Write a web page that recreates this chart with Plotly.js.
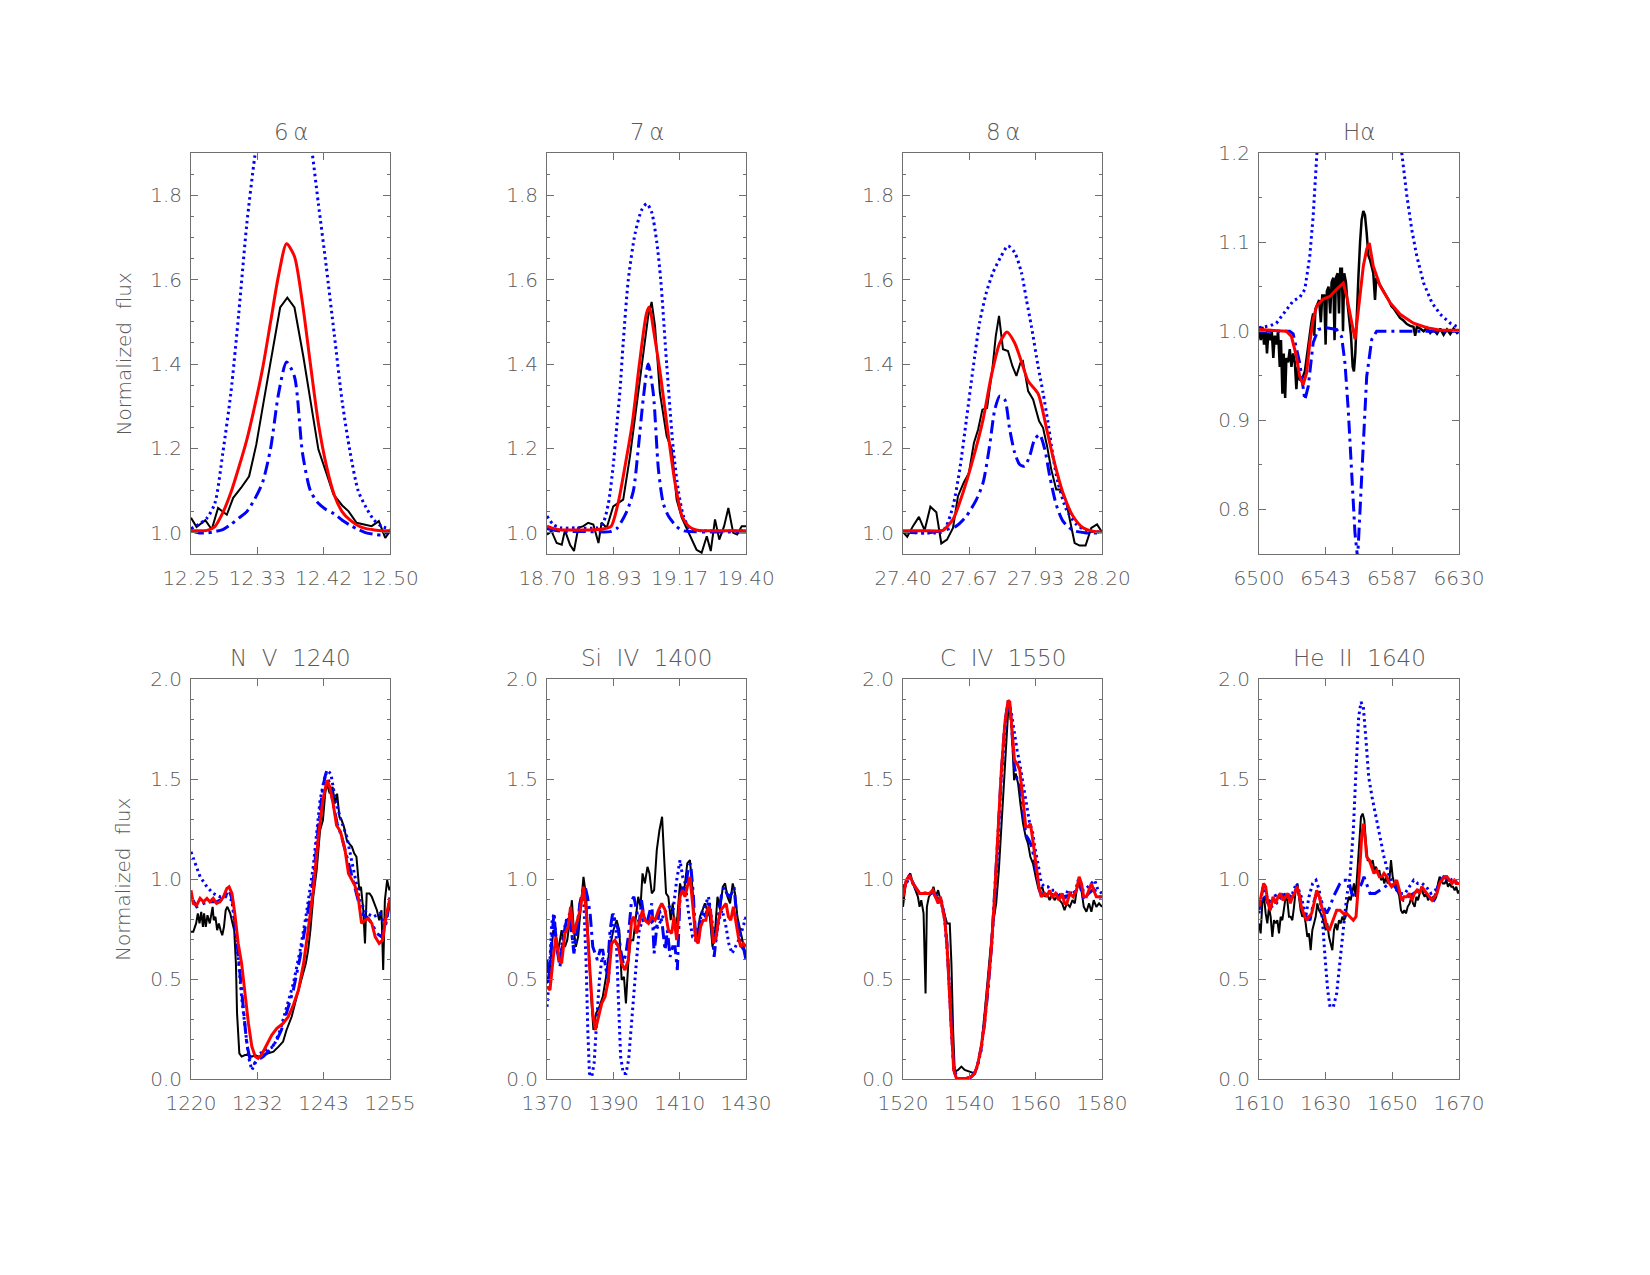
<!DOCTYPE html>
<html><head><meta charset="utf-8">
<script src="https://cdn.plot.ly/plotly-3.0.1.min.js"></script>
<style>html,body{margin:0;padding:0;background:#fff}#chart{width:1650px;height:1275px}</style>
</head><body><div id="chart"></div>
<script>
// ---------------- 6 alpha ----------------
const obs6x=[12.250,12.257,12.268,12.276,12.284,12.295,12.303,12.313,12.323,12.332,12.341,12.351,12.362,12.371,12.380,12.391,12.399,12.410,12.420,12.429,12.440,12.448,12.458,12.467,12.477,12.486,12.494,12.500];
const obs6y=[1.036,1.014,1.030,1.008,1.059,1.043,1.083,1.107,1.134,1.209,1.308,1.415,1.534,1.557,1.534,1.419,1.324,1.198,1.142,1.091,1.065,1.051,1.024,1.020,1.016,1.028,0.988,1.004];
const grid6=[12.25,12.26,12.27,12.28,12.29,12.30,12.31,12.32,12.33,12.34,12.35,12.36,12.37,12.38,12.39,12.40,12.41,12.42,12.43,12.44,12.45,12.46,12.47,12.48,12.49,12.50];
const fit6=[1.005,1.005,1.006,1.015,1.048,1.095,1.155,1.22,1.30,1.39,1.50,1.61,1.685,1.655,1.545,1.40,1.26,1.16,1.09,1.05,1.03,1.017,1.01,1.007,1.005,1.005];
const dot6=[1.01,1.02,1.035,1.07,1.19,1.33,1.52,1.73,1.89,2.02,2.12,2.18,2.18,2.12,2.02,1.93,1.78,1.63,1.47,1.31,1.19,1.10,1.06,1.03,1.015,1.01];
const dd6=[1.005,1.0,1.0,1.003,1.008,1.02,1.035,1.05,1.08,1.12,1.20,1.33,1.405,1.37,1.19,1.10,1.07,1.055,1.045,1.03,1.018,1.008,1.0,0.997,0.995,1.005];
// ---------------- 7 alpha ----------------
const obs7x=[18.700,18.716,18.734,18.752,18.763,18.781,18.795,18.810,18.828,18.845,18.863,18.881,18.892,18.910,18.933,18.951,18.968,18.992,19.015,19.039,19.056,19.068,19.080,19.097,19.121,19.139,19.156,19.174,19.197,19.226,19.244,19.262,19.276,19.291,19.306,19.323,19.338,19.355,19.369,19.385,19.400];
const obs7y=[0.996,1.004,0.976,0.972,1.006,0.972,0.957,1.012,1.016,1.024,1.020,0.976,1.024,1.012,1.063,1.071,1.079,1.182,1.300,1.435,1.514,1.547,1.490,1.332,1.229,1.198,1.079,1.036,1.004,0.960,0.953,0.992,0.957,1.032,0.984,1.016,1.059,1.000,0.996,1.016,1.016];
const fit7x=[18.70,18.725,18.75,18.80,18.85,18.90,18.925,18.95,18.975,19.00,19.025,19.05,19.06,19.075,19.10,19.125,19.15,19.175,19.20,19.225,19.25,19.30,19.35,19.40];
const fit7y=[1.016,1.010,1.007,1.007,1.007,1.010,1.015,1.07,1.16,1.26,1.40,1.52,1.535,1.48,1.37,1.24,1.12,1.04,1.015,1.007,1.005,1.005,1.005,1.005];
const dot7x=[18.700,18.722,18.746,18.804,18.875,18.898,18.916,18.933,18.945,18.957,18.968,18.986,19.010,19.033,19.051,19.068,19.086,19.100,19.121,19.144,19.162,19.180,19.203,19.250,19.400];
const dot7y=[1.04,1.02,1.012,1.012,1.012,1.025,1.07,1.16,1.25,1.34,1.45,1.60,1.71,1.765,1.78,1.76,1.69,1.60,1.40,1.20,1.10,1.04,1.01,1.005,1.005];
const dd7x=[18.700,18.750,18.850,18.922,18.945,18.980,19.004,19.021,19.039,19.056,19.074,19.092,19.109,19.127,19.156,19.180,19.300,19.400];
const dd7y=[1.010,1.004,1.003,1.003,1.010,1.050,1.100,1.200,1.320,1.400,1.330,1.150,1.070,1.040,1.015,1.005,1.002,1.002];
// ---------------- 8 alpha ----------------
const obs8x=[27.400,27.417,27.440,27.464,27.487,27.510,27.534,27.554,27.577,27.601,27.621,27.644,27.665,27.685,27.702,27.719,27.738,27.759,27.773,27.786,27.802,27.822,27.840,27.856,27.872,27.882,27.903,27.923,27.947,27.963,27.979,27.996,28.016,28.032,28.054,28.070,28.090,28.110,28.134,28.157,28.180,28.200];
const obs8y=[1.002,0.991,1.016,1.038,1.006,1.062,1.049,0.975,0.984,1.012,1.087,1.119,1.142,1.213,1.245,1.292,1.296,1.387,1.466,1.514,1.435,1.431,1.395,1.372,1.403,1.407,1.336,1.316,1.265,1.249,1.206,1.150,1.103,1.103,1.079,1.032,0.976,0.970,0.970,1.012,1.020,1.002];
const fit8x=[27.400,27.480,27.554,27.561,27.601,27.641,27.681,27.722,27.755,27.789,27.818,27.849,27.882,27.903,27.943,27.976,28.003,28.043,28.083,28.124,28.164,28.200];
const fit8y=[1.005,1.005,1.005,1.006,1.032,1.095,1.174,1.269,1.372,1.450,1.476,1.450,1.395,1.360,1.330,1.250,1.180,1.095,1.040,1.012,1.004,1.002];
const dot8x=[27.400,27.554,27.574,27.601,27.628,27.655,27.681,27.708,27.735,27.762,27.795,27.822,27.849,27.876,27.896,27.916,27.943,27.963,27.983,28.003,28.023,28.057,28.097,28.137,28.200];
const dot8y=[1.002,1.002,1.016,1.063,1.150,1.269,1.387,1.498,1.569,1.617,1.656,1.680,1.664,1.617,1.553,1.490,1.395,1.332,1.261,1.182,1.119,1.055,1.020,1.006,1.002];
const dd8x=[27.400,27.494,27.561,27.614,27.655,27.695,27.722,27.748,27.769,27.789,27.809,27.829,27.849,27.869,27.889,27.909,27.929,27.949,27.970,27.990,28.016,28.043,28.083,28.137,28.200];
const dd8y=[1.002,1.000,1.006,1.016,1.040,1.079,1.119,1.206,1.292,1.324,1.316,1.245,1.190,1.162,1.158,1.182,1.221,1.233,1.198,1.134,1.067,1.028,1.006,1.000,1.000];
// ---------------- H alpha ----------------
const obsHx=[6500.0,6501.1,6502.2,6503.3,6504.3,6505.2,6506.1,6507.4,6508.3,6509.3,6510.2,6511.3,6512.4,6513.5,6514.3,6515.2,6516.1,6517.0,6517.8,6518.9,6520.0,6521.1,6522.2,6523.3,6524.3,6525.2,6526.5,6528.3,6529.8,6531.3,6532.6,6534.1,6535.2,6535.9,6536.7,6537.8,6539.1,6540.2,6541.1,6542.4,6543.3,6544.1,6545.2,6546.3,6547.2,6548.3,6549.1,6550.0,6551.1,6552.0,6552.8,6553.9,6554.6,6555.4,6556.5,6557.6,6558.7,6559.8,6560.9,6561.7,6562.6,6563.5,6564.6,6565.7,6566.7,6567.8,6568.9,6570.0,6571.1,6572.2,6573.3,6574.3,6575.4,6576.3,6577.6,6579.1,6580.9,6582.6,6584.3,6586.1,6587.8,6589.6,6591.7,6593.9,6596.1,6598.3,6600.4,6601.5,6602.6,6604.8,6607.0,6609.1,6611.3,6613.5,6615.7,6617.8,6620.0,6622.2,6624.3,6626.5,6628.7,6630.0];
const obsHy=[1.002,0.990,1.005,0.985,1.000,0.975,0.998,0.990,1.000,0.970,0.995,0.985,1.000,0.960,0.990,0.930,0.975,0.925,0.970,0.965,0.980,0.960,0.975,0.965,0.935,0.960,0.945,0.948,0.955,0.975,0.995,1.010,1.020,0.995,1.025,1.030,1.035,1.010,1.040,1.040,0.985,1.045,1.050,1.020,1.055,1.060,0.990,1.060,1.065,1.020,1.070,1.070,1.000,1.065,1.055,1.030,1.010,0.995,0.960,0.955,0.975,1.020,1.060,1.100,1.125,1.135,1.130,1.110,1.085,1.080,1.070,1.065,1.035,1.060,1.055,1.050,1.045,1.040,1.035,1.028,1.025,1.020,1.015,1.012,1.008,1.006,1.005,0.995,1.005,1.003,1.000,1.004,0.998,1.002,0.997,1.003,0.996,1.002,0.997,1.003,0.998,1.000];
const fitHx=[6500.0,6509.1,6517.8,6521.1,6524.3,6526.5,6528.7,6530.9,6533.0,6535.2,6537.4,6541.7,6546.1,6550.4,6554.8,6557.0,6560.2,6562.4,6564.6,6567.8,6570.0,6571.7,6574.3,6578.7,6585.2,6591.7,6600.4,6609.1,6617.8,6630.0];
const fitHy=[1.002,1.001,1.000,0.994,0.972,0.949,0.940,0.953,0.987,1.013,1.028,1.036,1.039,1.047,1.054,1.039,1.009,0.991,1.024,1.073,1.092,1.099,1.073,1.051,1.032,1.019,1.009,1.004,1.001,1.001];
const dotHx=[6500.0,6507.0,6511.3,6516.7,6522.2,6526.5,6529.8,6533.0,6535.2,6537.4,6545.0,6563.0,6581.0,6592.8,6596.1,6599.3,6602.6,6607.0,6612.4,6617.8,6624.3,6630.0];
const dotHy=[1.004,1.006,1.009,1.021,1.034,1.038,1.047,1.084,1.129,1.193,1.40,1.60,1.40,1.200,1.152,1.114,1.084,1.054,1.032,1.019,1.009,1.004];
const ddHx=[6500.0,6520.0,6522.2,6526.5,6529.8,6532.0,6535.2,6538.5,6543.9,6550.4,6553.7,6555.9,6558.0,6560.2,6562.4,6564.1,6565.7,6567.8,6570.0,6573.3,6576.5,6630.0];
const ddHy=[1.000,1.000,0.997,0.964,0.923,0.938,0.987,1.002,1.004,1.002,0.994,0.964,0.912,0.837,0.773,0.745,0.800,0.882,0.949,0.991,1.000,1.000];
// ---------------- N V 1240 ----------------
const obsNx=[1220.0,1220.4,1220.9,1221.2,1221.5,1221.8,1222.1,1222.3,1222.6,1222.9,1223.3,1223.8,1224.0,1224.3,1224.6,1224.9,1225.2,1225.5,1225.8,1226.1,1226.4,1226.9,1227.3,1227.6,1227.9,1228.1,1228.5,1228.9,1229.5,1230.1,1230.7,1231.3,1231.8,1232.7,1233.6,1234.5,1235.4,1236.2,1236.8,1237.7,1238.6,1239.5,1240.2,1240.6,1241.0,1241.5,1242.1,1242.7,1243.2,1243.6,1243.9,1244.4,1244.9,1245.3,1245.7,1246.1,1246.5,1246.9,1247.4,1247.8,1248.3,1248.7,1249.1,1249.6,1249.9,1250.3,1250.6,1250.9,1251.4,1251.8,1252.2,1252.7,1253.1,1253.5,1253.8,1254.1,1254.5,1254.9,1255.0];
const obsNy=[0.736,0.736,0.778,0.828,0.778,0.836,0.761,0.828,0.761,0.819,0.778,0.861,0.794,0.811,0.744,0.778,0.744,0.719,0.761,0.844,0.861,0.828,0.778,0.744,0.578,0.328,0.128,0.112,0.120,0.120,0.112,0.120,0.112,0.120,0.128,0.137,0.162,0.187,0.245,0.311,0.411,0.511,0.578,0.644,0.744,0.911,1.044,1.244,1.294,1.427,1.477,1.427,1.461,1.377,1.427,1.311,1.294,1.261,1.194,1.178,1.161,1.128,1.111,0.944,0.961,0.844,0.678,0.928,0.928,0.911,0.878,0.844,0.794,0.844,0.545,0.894,0.994,0.944,0.961];
const fitNx=[1220.0,1220.4,1221.0,1221.6,1222.2,1222.8,1223.3,1223.9,1224.5,1225.1,1225.7,1226.3,1226.7,1227.2,1227.7,1228.3,1228.9,1229.5,1230.1,1230.7,1231.3,1231.8,1232.4,1233.3,1234.2,1235.1,1236.2,1237.1,1238.0,1238.9,1239.8,1240.6,1241.5,1242.4,1243.2,1243.9,1244.4,1245.0,1245.6,1246.3,1247.1,1247.7,1248.3,1248.8,1249.4,1250.0,1250.6,1251.2,1251.8,1252.4,1253.1,1253.7,1254.3,1255.0];
const fitNy=[0.944,0.878,0.869,0.903,0.886,0.903,0.886,0.903,0.878,0.886,0.911,0.953,0.961,0.928,0.828,0.678,0.578,0.411,0.278,0.162,0.112,0.103,0.120,0.170,0.220,0.253,0.278,0.311,0.370,0.445,0.578,0.744,0.944,1.211,1.394,1.494,1.461,1.377,1.269,1.236,1.144,1.027,0.994,0.969,0.911,0.778,0.794,0.803,0.778,0.711,0.678,0.694,0.811,0.903];
const dotNx=[1220.0,1220.7,1221.6,1222.8,1223.9,1225.1,1226.3,1227.2,1227.7,1228.3,1228.9,1229.5,1230.1,1230.7,1231.3,1232.1,1233.3,1234.5,1235.7,1236.8,1238.0,1239.2,1240.3,1241.5,1242.7,1243.4,1243.9,1244.6,1245.3,1246.2,1247.4,1248.6,1249.7,1250.9,1252.1,1253.2,1254.1,1255.0];
const dotNy=[1.136,1.077,1.011,0.961,0.928,0.911,0.911,0.894,0.778,0.611,0.411,0.245,0.112,0.045,0.078,0.128,0.145,0.162,0.245,0.361,0.478,0.644,0.828,1.061,1.394,1.494,1.544,1.527,1.411,1.311,1.211,1.044,0.894,0.828,0.811,0.828,0.761,0.911];
const ddNx=[1220.0,1221.0,1222.2,1223.3,1224.5,1225.7,1226.7,1227.3,1228.0,1228.6,1229.2,1229.8,1230.4,1231.1,1231.8,1232.7,1233.9,1235.1,1235.9,1236.8,1238.0,1239.2,1240.3,1241.5,1242.4,1243.2,1243.7,1244.4,1245.0,1245.7,1246.5,1247.4,1248.3,1249.1,1250.0,1250.9,1251.8,1252.7,1253.5,1254.3,1255.0];
const ddNy=[0.911,0.861,0.878,0.886,0.886,0.903,0.944,0.894,0.711,0.528,0.361,0.178,0.095,0.078,0.095,0.112,0.145,0.195,0.245,0.328,0.445,0.611,0.794,0.994,1.261,1.461,1.527,1.477,1.377,1.278,1.211,1.111,1.011,0.928,0.828,0.811,0.778,0.728,0.711,0.778,0.894];
// ---------------- Si IV 1400 ----------------
const obsSx=[1370.0,1370.9,1371.9,1372.7,1373.4,1374.4,1375.4,1376.1,1376.9,1377.5,1378.1,1378.7,1379.4,1380.3,1381.0,1381.8,1382.5,1383.3,1384.0,1384.8,1385.8,1386.8,1387.8,1388.8,1390.0,1391.0,1391.8,1392.5,1393.2,1393.8,1394.5,1395.2,1396.0,1396.8,1397.5,1398.2,1398.8,1399.5,1400.3,1400.9,1401.6,1402.3,1403.1,1403.9,1404.7,1405.3,1405.9,1406.6,1407.3,1407.9,1408.6,1409.3,1410.1,1410.8,1411.5,1412.3,1413.1,1413.9,1414.6,1415.3,1416.1,1416.9,1417.6,1418.3,1419.1,1419.9,1420.7,1421.4,1422.2,1423.0,1423.7,1424.4,1425.2,1426.0,1426.7,1427.4,1428.2,1429.0,1430.0];
const obsSy=[0.478,0.561,0.744,0.711,0.644,0.744,0.661,0.694,0.794,0.894,0.744,0.661,0.711,0.861,1.011,0.911,0.644,0.411,0.245,0.328,0.361,0.411,0.511,0.644,0.744,0.794,0.744,0.495,0.511,0.378,0.578,0.694,0.694,0.828,0.911,0.861,1.028,0.978,1.061,1.028,0.928,0.944,1.144,1.244,1.311,1.111,0.928,0.911,0.794,0.878,0.744,0.811,0.978,0.928,0.961,1.078,1.094,0.944,0.728,0.711,0.811,0.844,0.878,0.844,0.811,0.661,0.744,0.911,0.844,0.961,0.978,0.911,0.878,0.978,0.928,0.811,0.744,0.678,0.611];
const fitSx=[1370.0,1370.9,1371.9,1372.7,1373.7,1374.4,1375.4,1376.4,1377.1,1378.1,1378.9,1380.0,1381.0,1381.8,1382.8,1383.8,1384.6,1385.5,1386.5,1387.5,1388.5,1389.5,1390.5,1391.5,1392.5,1393.5,1394.5,1395.5,1396.2,1397.0,1398.0,1398.8,1399.5,1400.6,1401.6,1402.6,1403.6,1404.6,1405.6,1406.6,1407.6,1408.3,1409.1,1410.1,1410.9,1411.6,1412.3,1413.1,1413.9,1414.9,1415.6,1416.3,1417.1,1417.9,1418.6,1419.3,1420.2,1421.0,1421.7,1422.4,1423.2,1424.0,1424.7,1425.4,1426.2,1427.0,1427.7,1428.4,1429.2,1430.0];
const fitSy=[0.461,0.445,0.611,0.711,0.595,0.578,0.728,0.761,0.861,0.728,0.778,0.844,0.961,0.844,0.578,0.328,0.245,0.311,0.378,0.411,0.495,0.678,0.694,0.661,0.578,0.545,0.595,0.794,0.811,0.728,0.794,0.844,0.794,0.778,0.811,0.794,0.844,0.878,0.844,0.744,0.728,0.811,0.694,0.911,0.944,0.911,0.961,1.011,0.878,0.694,0.678,0.761,0.794,0.794,0.861,0.844,0.678,0.711,0.794,0.844,0.861,0.878,0.811,0.794,0.861,0.778,0.711,0.661,0.678,0.661];
const dotSx=[1370.0,1370.7,1371.4,1372.1,1372.9,1373.9,1374.9,1376.1,1377.1,1378.1,1379.1,1380.2,1381.0,1381.8,1382.3,1382.8,1383.5,1384.2,1385.0,1385.8,1386.6,1387.5,1388.5,1389.2,1390.0,1390.8,1391.5,1392.2,1393.0,1393.8,1394.6,1395.4,1396.2,1397.0,1397.8,1398.8,1399.8,1400.9,1401.9,1402.9,1403.9,1404.9,1405.9,1406.9,1407.9,1409.1,1410.1,1410.9,1411.7,1412.7,1413.9,1414.9,1415.9,1416.9,1417.9,1418.7,1419.7,1420.8,1421.8,1422.8,1423.8,1424.8,1425.8,1426.8,1427.8,1428.8,1430.0];
const dotSy=[0.361,0.511,0.778,0.828,0.661,0.595,0.728,0.811,0.778,0.644,0.778,0.894,0.928,0.578,0.245,0.028,0.012,0.078,0.295,0.495,0.611,0.578,0.478,0.694,0.828,0.744,0.411,0.112,0.028,0.028,0.095,0.245,0.428,0.595,0.744,0.794,0.778,0.794,0.778,0.744,0.778,0.811,0.844,0.861,0.828,0.994,1.094,1.011,0.978,0.828,0.711,0.711,0.778,0.844,0.878,0.911,0.794,0.678,0.794,0.844,0.778,0.678,0.628,0.661,0.694,0.744,0.811];
const ddSx=[1370.0,1370.7,1371.4,1372.1,1372.9,1373.9,1374.9,1375.9,1376.9,1378.1,1378.9,1379.9,1380.8,1381.5,1382.2,1383.0,1383.8,1384.5,1385.2,1386.0,1386.8,1387.5,1388.2,1389.0,1389.8,1390.5,1391.5,1392.2,1393.0,1393.8,1394.5,1395.5,1396.2,1397.0,1397.8,1398.5,1399.2,1400.1,1400.9,1401.6,1402.3,1403.1,1403.9,1404.7,1405.6,1406.3,1407.1,1407.9,1408.6,1409.3,1410.1,1410.9,1411.7,1412.6,1413.3,1414.1,1414.9,1415.7,1416.3,1417.1,1417.9,1418.7,1419.5,1420.4,1421.2,1422.0,1422.7,1423.4,1424.2,1425.0,1425.7,1426.4,1427.2,1428.1,1428.7,1429.4,1430.0];
const ddSy=[0.595,0.478,0.694,0.828,0.661,0.561,0.711,0.794,0.828,0.628,0.711,0.878,0.944,0.961,0.911,0.828,0.661,0.628,0.595,0.644,0.644,0.578,0.528,0.744,0.828,0.794,0.744,0.644,0.578,0.628,0.711,0.894,0.911,0.844,0.778,0.894,0.811,0.778,0.828,0.878,0.628,0.761,0.844,0.778,0.644,0.744,0.611,0.661,0.661,0.545,0.911,0.961,0.928,1.061,1.078,0.928,0.678,0.694,0.794,0.828,0.811,0.894,0.794,0.611,0.744,0.861,0.928,0.961,0.928,0.911,0.928,0.961,0.811,0.711,0.661,0.644,0.595];
// ---------------- C IV 1550 ----------------
const obsCx=[1520.0,1520.7,1521.5,1522.2,1523.0,1523.8,1524.5,1525.0,1525.5,1526.2,1526.8,1527.2,1527.8,1528.5,1529.2,1529.8,1530.6,1531.3,1531.9,1532.6,1533.3,1534.1,1534.6,1535.1,1535.6,1536.6,1537.6,1538.6,1540.1,1541.6,1542.6,1543.6,1544.6,1545.3,1546.1,1546.7,1547.3,1548.1,1548.9,1549.6,1550.4,1551.2,1551.9,1552.5,1553.0,1553.5,1554.0,1554.7,1555.4,1556.2,1557.0,1557.7,1558.4,1559.2,1560.0,1560.7,1561.2,1562.0,1562.7,1563.4,1564.2,1565.0,1565.7,1566.4,1567.2,1568.0,1568.7,1569.4,1570.3,1571.1,1571.8,1572.5,1573.1,1573.8,1574.5,1575.3,1576.1,1576.8,1577.5,1578.3,1579.1,1580.0];
const obsCy=[0.861,0.961,1.011,1.028,0.978,0.944,0.911,0.861,0.894,0.828,0.428,0.861,0.911,0.928,0.961,0.911,0.944,0.894,0.861,0.811,0.778,0.778,0.578,0.245,0.037,0.045,0.062,0.045,0.037,0.028,0.078,0.162,0.328,0.461,0.578,0.711,0.794,0.878,1.044,1.244,1.477,1.744,1.893,1.843,1.694,1.494,1.527,1.477,1.377,1.277,1.211,1.177,1.111,1.077,1.011,0.961,0.944,0.961,0.911,0.928,0.894,0.928,0.894,0.911,0.894,0.878,0.844,0.878,0.861,0.894,0.878,0.961,0.994,0.944,0.861,0.836,0.878,0.836,0.894,0.861,0.878,0.861];
const fitCx=[1520.0,1521.0,1522.0,1523.0,1524.0,1525.0,1526.0,1527.0,1528.0,1529.0,1529.8,1530.6,1531.3,1531.9,1532.6,1533.3,1533.9,1534.6,1535.3,1536.1,1537.6,1539.1,1540.6,1541.6,1542.6,1543.6,1544.6,1545.6,1546.6,1547.6,1548.6,1549.6,1550.7,1551.7,1552.2,1552.9,1553.6,1554.4,1555.2,1556.2,1557.0,1557.8,1558.4,1559.0,1560.0,1561.0,1561.7,1562.7,1563.4,1564.2,1565.0,1566.0,1567.0,1568.0,1568.7,1569.4,1570.3,1571.3,1572.3,1573.1,1573.8,1574.5,1575.3,1576.1,1576.8,1577.5,1578.3,1579.3,1580.0];
const fitCy=[0.911,0.994,1.019,0.978,0.953,0.928,0.928,0.928,0.928,0.944,0.911,0.878,0.911,0.861,0.794,0.661,0.495,0.245,0.045,0.003,0.003,0.003,0.012,0.028,0.078,0.162,0.278,0.445,0.644,0.911,1.211,1.527,1.777,1.893,1.885,1.744,1.594,1.577,1.544,1.394,1.261,1.261,1.277,1.211,1.077,0.961,0.911,0.928,0.911,0.944,0.911,0.928,0.894,0.928,0.878,0.878,0.928,0.911,0.944,1.011,0.978,0.911,0.911,0.944,0.978,0.944,0.911,0.911,0.911];
const dotCx=[1520.0,1521.0,1522.0,1523.5,1525.0,1527.0,1529.0,1530.6,1531.6,1532.6,1533.6,1534.6,1535.4,1536.6,1540.1,1542.1,1543.6,1545.1,1546.6,1548.1,1549.6,1551.0,1551.9,1552.7,1553.7,1554.4,1555.2,1556.0,1556.7,1557.4,1558.2,1559.0,1559.7,1560.7,1561.7,1562.7,1563.7,1564.7,1565.7,1566.7,1567.7,1568.7,1569.7,1570.8,1571.8,1572.8,1573.8,1574.8,1575.8,1576.8,1577.8,1578.8,1580.0];
const dotCy=[0.961,0.978,1.011,0.961,0.928,0.928,0.928,0.911,0.878,0.794,0.578,0.245,0.045,0.003,0.003,0.045,0.145,0.378,0.644,0.994,1.494,1.793,1.893,1.827,1.711,1.644,1.577,1.494,1.444,1.361,1.277,1.244,1.161,1.077,0.978,0.961,0.961,0.944,0.944,0.911,0.928,0.894,0.944,0.928,0.928,0.994,0.944,0.944,0.961,0.978,0.994,0.944,0.928];
const ddCx=[1520.0,1521.0,1522.0,1523.0,1524.0,1525.0,1526.0,1527.0,1528.0,1529.0,1529.8,1530.6,1531.3,1531.9,1532.6,1533.3,1533.9,1534.6,1535.3,1536.1,1537.6,1539.1,1540.6,1541.6,1542.6,1543.6,1544.6,1545.6,1546.6,1547.6,1548.6,1549.6,1550.7,1551.7,1552.2,1552.9,1553.6,1554.4,1555.2,1556.2,1557.0,1557.8,1558.4,1559.0,1560.0,1561.0,1561.7,1562.7,1564.2,1566.0,1568.0,1570.3,1572.3,1573.1,1574.5,1576.1,1577.5,1579.3,1580.0];
const ddCy=[0.93,0.99,1.02,0.98,0.95,0.93,0.93,0.93,0.93,0.94,0.91,0.90,0.91,0.87,0.80,0.67,0.50,0.25,0.05,0.003,0.003,0.003,0.012,0.028,0.078,0.16,0.28,0.44,0.64,0.91,1.21,1.52,1.78,1.89,1.88,1.72,1.56,1.50,1.48,1.35,1.22,1.20,1.18,1.15,1.04,0.95,0.92,0.93,0.93,0.92,0.91,0.92,0.94,0.98,0.90,0.93,0.95,0.91,0.91];
// ---------------- He II 1640 ----------------
const obsHex=[1610.0,1610.5,1611.0,1611.5,1612.0,1612.5,1613.0,1613.5,1614.0,1614.5,1615.0,1615.5,1616.0,1616.5,1617.0,1617.5,1618.0,1618.5,1619.0,1619.5,1620.0,1620.5,1621.0,1621.5,1622.0,1622.5,1623.0,1623.5,1624.0,1624.5,1625.0,1625.5,1626.0,1626.5,1627.0,1627.5,1628.0,1628.5,1629.0,1629.5,1630.0,1630.5,1631.0,1631.5,1632.0,1632.5,1633.0,1633.5,1634.0,1634.5,1635.0,1635.5,1636.0,1636.5,1637.0,1637.5,1638.0,1638.5,1639.0,1639.5,1640.1,1640.6,1641.1,1641.6,1642.1,1642.6,1643.1,1643.6,1644.1,1644.6,1645.1,1645.6,1646.1,1646.6,1647.1,1647.6,1648.1,1648.6,1649.1,1649.6,1650.1,1650.6,1651.1,1651.6,1652.1,1652.6,1653.1,1653.6,1654.1,1654.6,1655.2,1655.7,1656.2,1656.7,1657.2,1657.7,1658.2,1658.7,1659.2,1659.7,1660.2,1660.7,1661.2,1661.7,1662.2,1662.7,1663.2,1663.7,1664.2,1664.7,1665.2,1665.7,1666.2,1666.7,1667.2,1667.7,1668.2,1668.7,1669.2,1669.7,1670.0];
const obsHey=[0.778,0.728,0.878,0.911,0.828,0.778,0.861,0.811,0.711,0.794,0.778,0.794,0.728,0.811,0.794,0.844,0.911,0.894,0.811,0.811,0.794,0.861,0.944,0.978,0.911,0.844,0.811,0.828,0.778,0.711,0.728,0.644,0.744,0.778,0.811,0.878,0.844,0.828,0.811,0.778,0.744,0.778,0.711,0.678,0.644,0.744,0.778,0.744,0.794,0.778,0.811,0.794,0.811,0.878,0.911,0.894,0.928,0.978,0.911,1.028,1.177,1.311,1.327,1.294,1.177,1.094,1.094,1.077,1.094,1.044,1.061,1.028,1.044,0.994,1.011,0.978,1.011,0.978,0.994,1.094,1.011,0.978,0.978,0.944,0.911,0.844,0.828,0.844,0.828,0.861,0.878,0.911,0.878,0.861,0.911,0.894,0.928,0.961,0.928,0.911,0.928,0.894,0.911,0.894,0.911,0.894,0.911,0.978,1.011,0.994,0.978,0.978,0.994,0.961,0.978,0.961,0.961,0.944,0.961,0.928,0.944];
const fitHex=[1610.0,1610.7,1611.4,1612.0,1612.7,1613.4,1614.2,1615.0,1615.7,1616.4,1617.2,1618.0,1618.7,1619.4,1620.0,1620.7,1621.4,1622.0,1622.7,1623.4,1624.2,1625.0,1625.8,1626.5,1627.3,1628.1,1628.8,1629.5,1630.3,1631.1,1631.8,1632.5,1633.3,1634.3,1635.3,1636.3,1637.3,1638.3,1639.1,1639.8,1640.3,1640.8,1641.3,1641.8,1642.3,1643.1,1643.8,1644.5,1645.3,1646.1,1646.8,1647.5,1648.3,1649.1,1649.8,1650.5,1651.3,1652.1,1652.8,1653.5,1654.3,1655.1,1655.9,1656.6,1657.4,1658.2,1658.9,1659.6,1660.4,1661.2,1661.9,1662.6,1663.4,1664.2,1664.9,1665.6,1666.4,1667.2,1667.9,1668.6,1669.4,1670.0];
const fitHey=[0.861,0.928,0.978,0.961,0.878,0.844,0.911,0.878,0.911,0.928,0.894,0.911,0.928,0.878,0.911,0.928,0.961,0.928,0.861,0.828,0.794,0.811,0.828,0.878,0.944,0.911,0.861,0.828,0.761,0.744,0.778,0.811,0.844,0.844,0.828,0.828,0.811,0.794,0.811,0.944,1.077,1.211,1.277,1.211,1.111,1.094,1.061,1.028,1.044,1.011,1.011,1.028,1.011,0.978,0.961,0.978,0.994,0.944,0.894,0.911,0.911,0.928,0.894,0.928,0.944,0.928,0.961,0.944,0.928,0.911,0.894,0.911,0.928,0.978,0.994,1.011,1.011,0.994,0.978,0.994,0.978,0.978];
const dotHex=[1610.0,1611.2,1612.4,1613.7,1615.2,1616.7,1618.2,1619.7,1621.2,1622.7,1624.0,1625.0,1626.1,1627.1,1628.1,1629.1,1629.8,1630.6,1631.3,1632.3,1633.3,1634.3,1635.3,1636.3,1637.3,1638.3,1639.1,1639.9,1640.6,1641.3,1642.1,1642.9,1643.9,1645.1,1646.3,1647.5,1648.8,1650.1,1651.3,1652.5,1653.8,1655.1,1656.4,1657.6,1658.9,1660.2,1661.6,1662.9,1664.2,1665.4,1666.6,1667.9,1669.2,1670.0];
const dotHey=[0.828,0.961,0.911,0.861,0.878,0.911,0.928,0.911,0.978,0.911,0.811,0.911,0.978,0.994,0.944,0.778,0.611,0.445,0.361,0.361,0.428,0.595,0.778,0.911,1.011,1.244,1.544,1.810,1.885,1.860,1.694,1.511,1.411,1.311,1.211,1.111,1.028,0.978,0.944,0.928,0.928,0.961,0.994,0.978,0.978,0.961,0.928,0.944,0.978,1.011,1.011,0.994,0.978,0.978];
const ddHex=[1610.0,1611.2,1612.7,1614.2,1616.2,1618.2,1620.2,1621.4,1622.7,1624.2,1625.3,1626.3,1627.3,1628.3,1629.3,1630.3,1631.3,1632.3,1633.3,1634.3,1635.3,1636.3,1637.1,1637.8,1638.8,1639.8,1640.8,1641.5,1642.3,1643.3,1644.8,1646.3,1647.8,1649.3,1650.8,1652.1,1653.3,1654.8,1656.4,1657.9,1659.4,1660.9,1662.4,1663.9,1665.4,1666.9,1668.4,1670.0];
const ddHey=[0.844,0.944,0.878,0.911,0.928,0.911,0.911,0.961,0.878,0.811,0.794,0.878,0.928,0.911,0.861,0.828,0.861,0.911,0.944,0.978,0.994,0.994,0.978,0.928,0.911,0.944,0.978,1.011,0.978,0.928,0.928,0.944,0.961,0.978,0.961,0.928,0.894,0.911,0.928,0.944,0.944,0.911,0.894,0.978,1.011,0.994,0.994,0.978];

// ---------------- axes: ranges and tick labels ----------------
const titles=['6\u2009α','7\u2009α','8\u2009α','Hα','N\u00a0\u00a0V\u00a0\u00a01240','Si\u00a0\u00a0IV\u00a0\u00a01400','C\u00a0\u00a0IV\u00a0\u00a01550','He\u00a0\u00a0II\u00a0\u00a01640'];
const xRanges=[[12.25,12.50],[18.70,19.40],[27.40,28.20],[6500,6630],[1220,1255],[1370,1430],[1520,1580],[1610,1670]];
const xTickVals=[[12.25,12.3333,12.4167,12.50],[18.70,18.9333,19.1667,19.40],[27.40,27.6667,27.9333,28.20],[6500,6543.33,6586.67,6630],[1220,1231.67,1243.33,1255],[1370,1390,1410,1430],[1520,1540,1560,1580],[1610,1630,1650,1670]];
const xTickText=[["12.25","12.33","12.42","12.50"],["18.70","18.93","19.17","19.40"],["27.40","27.67","27.93","28.20"],["6500","6543","6587","6630"],["1220","1232","1243","1255"],["1370","1390","1410","1430"],["1520","1540","1560","1580"],["1610","1630","1650","1670"]];
const yRanges=[[0.95,1.9],[0.95,1.9],[0.95,1.9],[0.75,1.2],[0,2],[0,2],[0,2],[0,2]];
const yTickVals=[[1.0,1.2,1.4,1.6,1.8],[1.0,1.2,1.4,1.6,1.8],[1.0,1.2,1.4,1.6,1.8],[0.8,0.9,1.0,1.1,1.2],[0,0.5,1.0,1.5,2.0],[0,0.5,1.0,1.5,2.0],[0,0.5,1.0,1.5,2.0],[0,0.5,1.0,1.5,2.0]];
const yTickText=[["1.0","1.2","1.4","1.6","1.8"],["1.0","1.2","1.4","1.6","1.8"],["1.0","1.2","1.4","1.6","1.8"],["0.8","0.9","1.0","1.1","1.2"],["0.0","0.5","1.0","1.5","2.0"],["0.0","0.5","1.0","1.5","2.0"],["0.0","0.5","1.0","1.5","2.0"],["0.0","0.5","1.0","1.5","2.0"]];
const yMinor=[0.05,0.05,0.05,0.05,0.1,0.1,0.1,0.1];
const yLabel='Normalized\u00a0 flux';

const series=[
 [obs6x,obs6y,grid6,dot6,grid6,dd6,grid6,fit6],
 [obs7x,obs7y,dot7x,dot7y,dd7x,dd7y,fit7x,fit7y],
 [obs8x,obs8y,dot8x,dot8y,dd8x,dd8y,fit8x,fit8y],
 [obsHx,obsHy,dotHx,dotHy,ddHx,ddHy,fitHx,fitHy],
 [obsNx,obsNy,dotNx,dotNy,ddNx,ddNy,fitNx,fitNy],
 [obsSx,obsSy,dotSx,dotSy,ddSx,ddSy,fitSx,fitSy],
 [obsCx,obsCy,dotCx,dotCy,ddCx,ddCy,fitCx,fitCy],
 [obsHex,obsHey,dotHex,dotHey,ddHex,ddHey,fitHex,fitHey]
];

// ---------------- layout geometry ----------------
const W=1650,H=1275;
const cols=[[191,390],[547,746],[903,1102],[1259,1459]];
const rows=[[153,554],[679,1079]];
const TXT='#5a5a5a', FRAME='#707070';
const FONT='DejaVu Sans, Liberation Sans, Arial, sans-serif';
const TF={family:FONT,size:20,color:TXT,weight:200};

const traces=[]; const layout={
  width:W,height:H,margin:{l:0,r:0,t:0,b:0},paper_bgcolor:'#fff',plot_bgcolor:'#fff',
  showlegend:false,font:{family:FONT,color:TXT},annotations:[]
};
for(let i=0;i<8;i++){
  const r=i<4?0:1, c=i%4, n=i+1;
  const xa='x'+(n===1?'':n), ya='y'+(n===1?'':n);
  const s=series[i];
  const shp=(i<3)?'spline':'linear';
  traces.push({x:s[0],y:s[1],xaxis:xa,yaxis:ya,mode:'lines',line:{color:'#000',width:i===3?2.5:2},hoverinfo:'skip'});
  traces.push({x:s[2],y:s[3],xaxis:xa,yaxis:ya,mode:'lines',line:{color:'#0000ff',width:3,dash:'2.5px,3.5px',shape:shp,smoothing:0.7},hoverinfo:'skip'});
  traces.push({x:s[4],y:s[5],xaxis:xa,yaxis:ya,mode:'lines',line:{color:'#0000ff',width:3,dash:'13px,5px,3px,5px',shape:shp,smoothing:0.7},hoverinfo:'skip'});
  traces.push({x:s[6],y:s[7],xaxis:xa,yaxis:ya,mode:'lines',line:{color:'#ff0000',width:3,shape:shp,smoothing:0.7},hoverinfo:'skip'});
  layout['xaxis'+(n===1?'':n)]={
    domain:[cols[c][0]/W,cols[c][1]/W],anchor:ya,range:xRanges[i],
    tickmode:'array',tickvals:xTickVals[i],ticktext:xTickText[i],
    ticks:'inside',ticklen:7,tickcolor:FRAME,tickwidth:1,
    showline:true,linecolor:FRAME,linewidth:1,mirror:'ticks',
    showgrid:false,zeroline:false,tickfont:TF,ticklabelstandoff:6
  };
  layout['yaxis'+(n===1?'':n)]={
    domain:[1-rows[r][1]/H,1-rows[r][0]/H],anchor:xa,range:yRanges[i],
    tickmode:'array',tickvals:yTickVals[i],ticktext:yTickText[i],
    ticks:'inside',ticklen:7,tickcolor:FRAME,tickwidth:1,
    minor:{tickmode:'linear',tick0:0,dtick:yMinor[i],ticks:'inside',ticklen:3,tickcolor:FRAME,tickwidth:1,showgrid:false},
    showline:true,linecolor:FRAME,linewidth:1,mirror:'ticks',
    showgrid:false,zeroline:false,tickfont:TF,ticklabelstandoff:4
  };
  layout.annotations.push({text:titles[i],xref:'paper',yref:'paper',
    x:(cols[c][0]+cols[c][1])/2/W,y:1-(rows[r][0]-21)/H,xanchor:'center',yanchor:'middle',
    showarrow:false,font:{family:FONT,size:23,color:TXT,weight:200}});
  if(c===0){
    layout.annotations.push({text:yLabel,xref:'paper',yref:'paper',textangle:-90,
      x:123/W,y:1-(rows[r][0]+rows[r][1])/2/H,xanchor:'center',yanchor:'middle',
      showarrow:false,font:{family:FONT,size:20,color:TXT,weight:200}});
  }
}
Plotly.newPlot('chart',traces,layout,{staticPlot:true});
</script></body></html>
